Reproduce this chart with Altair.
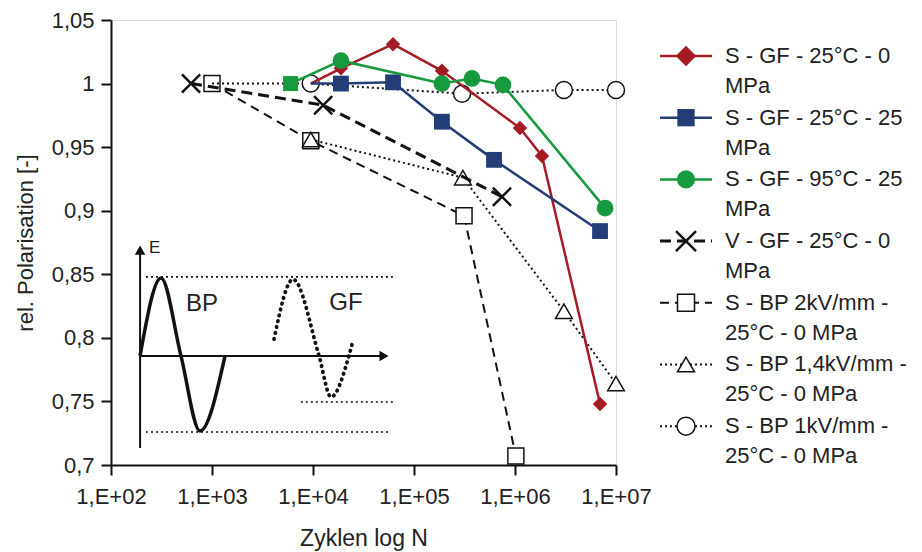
import altair as alt
import pandas as pd

# ---------------- data ----------------
legend_line1 = ["S - GF - 25°C - 0", "S - GF - 25°C - 25", "S - GF - 95°C - 25",
                "V - GF - 25°C - 0", "S - BP 2kV/mm -", "S - BP 1,4kV/mm -", "S - BP 1kV/mm -"]
legend_line2 = ["MPa", "MPa", "MPa", "MPa", "25°C - 0 MPa", "25°C - 0 MPa", "25°C - 0 MPa"]

sgf25_0_N = [9.5e3, 1.89e4, 6.2e4, 1.89e5, 1.12e6, 1.85e6, 6.95e6]
sgf25_0_P = [1.000, 1.012, 1.031, 1.010, 0.965, 0.943, 0.748]
sgf25_25_N = [9.5e3, 1.89e4, 6.2e4, 1.89e5, 6.2e5, 6.95e6]
sgf25_25_P = [1.000, 1.000, 1.001, 0.970, 0.940, 0.884]
sgf95_25_N = [6.0e3, 1.89e4, 1.89e5, 3.75e5, 7.6e5, 7.8e6]
sgf95_25_P = [1.000, 1.018, 1.000, 1.004, 0.999, 0.902]
vgf_N = [620, 1.26e4, 7.43e5]
vgf_P = [1.000, 0.983, 0.911]
bp2_N = [1.0e3, 9.5e3, 3.13e5, 1.02e6]
bp2_P = [1.000, 0.955, 0.896, 0.707]
bp14_N = [9.5e3, 3.05e5, 3.05e6, 1.0e7]
bp14_P = [0.956, 0.926, 0.821, 0.764]
bp1_N = [1.0e3, 9.5e3, 2.99e5, 3.05e6, 1.0e7]
bp1_P = [1.000, 1.000, 0.992, 0.995, 0.995]

x_ticks = [1e2, 1e3, 1e4, 1e5, 1e6, 1e7]
y_ticks = [0.7, 0.75, 0.8, 0.85, 0.9, 0.95, 1.0, 1.05]

# inset schematic (in data units of the chart)
bp_wave_N = [194, 313, 493, 760, 1346]
bp_wave_P = [0.7858, 0.8471, 0.7858, 0.7268, 0.7858]
gf_wave_N = [4110, 6340, 11460, 15070, 22700, 24900]
gf_wave_P = [0.799, 0.846, 0.786, 0.7535, 0.786, 0.798]
hline_P = [0.848, 0.726, 0.7496]
hline_N1 = [222, 222, 7580]
hline_N2 = [61700, 59200, 66000]
e_axis_N = [194, 194]
e_axis_P = [0.7134, 0.866]
t_axis_N = [194, 48000]
t_axis_P = [0.7858, 0.7858]
arrow_N = [194, 50500]
arrow_P = [0.869, 0.7858]
arrow_shape = ["triangle-up", "triangle-right"]
inset_text = ["E", "BP", "GF"]
inset_text_N = [270, 796, 21200]
inset_text_P = [0.871, 0.8267, 0.8275]
inset_text_size = [17, 24, 24]

# ---------------- styles ----------------
RED, BLUE, GREEN, BLACK = "#a51b24", "#233d77", "#169a3e", "#111111"
FONT = "Liberation Sans"
XSHAPE = "M-1,-1L1,1M-1,1L1,-1"

xs = alt.Scale(type="log", domain=[1e2, 1e7], nice=False)
ys = alt.Scale(domain=[0.7, 1.05], nice=False, zero=False)
x_enc = alt.X("N:Q", scale=xs, axis=alt.Axis(
    values=x_ticks, labelExpr="'1,E+0' + round(log(datum.value) / LN10)",
    grid=False, tickSize=10, tickWidth=2, tickColor=BLACK, domainColor=BLACK,
    domainWidth=2, labelFont=FONT, labelFontSize=22, labelColor="#222",
    labelPadding=11, title="Zyklen log N", titleFont=FONT, titleFontSize=23,
    titleFontWeight="normal", titleColor="#222", titlePadding=20, labelFlush=False))
y_enc = alt.Y("P:Q", scale=ys, axis=alt.Axis(
    values=y_ticks, labelExpr="replace(format(datum.value, '.2~f'), '.', ',')",
    grid=False, tickSize=10, tickWidth=2, tickColor=BLACK, domainColor=BLACK,
    domainWidth=2, labelFont=FONT, labelFontSize=22, labelColor="#222",
    labelPadding=7, title="rel. Polarisation [-]", titleFont=FONT, titleFontSize=22,
    titleFontWeight="normal", titleColor="#222", titlePadding=14, labelFlush=False))

series = [
    # (N, P, line style, marker style, first marker index)
    (bp2_N, bp2_P, dict(color=BLACK, strokeWidth=2, strokeDash=[9, 6]),
     dict(shape="square", filled=True, fill="white", stroke=BLACK, strokeWidth=1.5, size=256), 0),
    (bp14_N, bp14_P, dict(color=BLACK, strokeWidth=2, strokeDash=[2, 3]),
     dict(shape="triangle-up", filled=True, fill="white", stroke=BLACK, strokeWidth=1.5, size=280), 0),
    (bp1_N, bp1_P, dict(color=BLACK, strokeWidth=2, strokeDash=[2, 3]),
     dict(shape="circle", filled=True, fill="white", stroke=BLACK, strokeWidth=1.5, size=289), 1),
    (vgf_N, vgf_P, dict(color=BLACK, strokeWidth=3, strokeDash=[11, 6]),
     dict(shape=XSHAPE, filled=False, stroke=BLACK, strokeWidth=2.5, size=330), 0),
    (sgf25_0_N, sgf25_0_P, dict(color=RED, strokeWidth=2.5),
     dict(shape="diamond", filled=True, color=RED, size=210), 1),
    (sgf25_25_N, sgf25_25_P, dict(color=BLUE, strokeWidth=2.5),
     dict(shape="square", filled=True, color=BLUE, size=250), 1),
    (sgf95_25_N, sgf95_25_P, dict(color=GREEN, strokeWidth=2.5),
     dict(shape="circle", filled=True, color=GREEN, size=280), 0),
]

layers = []
# inset
inset_h = pd.DataFrame({"P": hline_P, "N": hline_N1, "N2": hline_N2})
layers.append(alt.Chart(inset_h).mark_rule(color=BLACK, strokeWidth=1.6, strokeDash=[2, 3])
              .encode(x=x_enc, x2="N2:Q", y=y_enc))
layers.append(alt.Chart(pd.DataFrame({"N": e_axis_N, "P": e_axis_P})).mark_line(color=BLACK, strokeWidth=2)
              .encode(x=x_enc, y=y_enc))
layers.append(alt.Chart(pd.DataFrame({"N": t_axis_N, "P": t_axis_P})).mark_line(color=BLACK, strokeWidth=2)
              .encode(x=x_enc, y=y_enc))
layers.append(alt.Chart(pd.DataFrame({"N": arrow_N, "P": arrow_P, "s": arrow_shape}))
              .mark_point(filled=True, color=BLACK, size=110, opacity=1)
              .encode(x=x_enc, y=y_enc, shape=alt.Shape("s:N", scale=None)))
layers.append(alt.Chart(pd.DataFrame({"N": bp_wave_N, "P": bp_wave_P}))
              .mark_line(color=BLACK, strokeWidth=3.5, interpolate="monotone")
              .encode(x=x_enc, y=y_enc))
layers.append(alt.Chart(pd.DataFrame({"N": gf_wave_N, "P": gf_wave_P}))
              .mark_line(color=BLACK, strokeWidth=3.8, interpolate="monotone",
                         strokeDash=[0.5, 5.5], strokeCap="round")
              .encode(x=x_enc, y=y_enc))
layers.append(alt.Chart(pd.DataFrame({"N": inset_text_N, "P": inset_text_P, "t": inset_text,
                                      "fs": inset_text_size}))
              .mark_text(font=FONT, color="#222", align="center", baseline="middle")
              .encode(x=x_enc, y=y_enc, text="t:N", size=alt.Size("fs:Q", scale=None)))

for idx, (N, P, ls, ms, mstart) in enumerate(series):
    df = pd.DataFrame({"N": N, "P": P})
    layers.append(alt.Chart(df).mark_line(**ls).encode(x=x_enc, y=y_enc))
    dfm = df.iloc[mstart:].copy()
    if idx == 6:
        dfm["shp"] = ["square"] + ["circle"] * (len(dfm) - 1)
        dfm["sz"] = [225] + [280] * (len(dfm) - 1)
        m = dict(ms)
        m.pop("shape")
        m.pop("size")
        layers.append(alt.Chart(dfm).mark_point(opacity=1, **m)
                      .encode(x=x_enc, y=y_enc, shape=alt.Shape("shp:N", scale=None),
                              size=alt.Size("sz:Q", scale=None)))
    else:
        layers.append(alt.Chart(dfm).mark_point(opacity=1, **ms).encode(x=x_enc, y=y_enc))

main = alt.layer(*layers).properties(width=505, height=445)

# ---------------- legend ----------------
leg_df = pd.DataFrame({"row": list(range(7)), "l1": legend_line1, "l2": legend_line2})
ly = alt.Y("row:Q", scale=alt.Scale(domain=[-0.583, 6.629], reverse=True, nice=False, zero=False),
           axis=None)
leg_order = [4, 5, 6, 3, 0, 1, 2]  # legend row for each entry of `series`
leg_msize = {0: 289, 1: 289, 2: 324, 3: 400, 4: 420, 5: 300, 6: 330}
XL0, XL1, XM, XT = 7, 59, 33, 72
leg_layers = []
for k, (N, P, ls, ms, mstart) in enumerate(series):
    r = leg_order[k]
    sub = leg_df[leg_df.row == r]
    lsd = dict(ls)
    lsd["strokeWidth"] = max(2, ls["strokeWidth"])
    c = lsd.pop("color")
    leg_layers.append(alt.Chart(sub).mark_rule(stroke=c, **lsd)
                      .encode(x=alt.value(XL0), x2=alt.value(XL1), y=ly))
    m = dict(ms)
    m["size"] = leg_msize[k]
    leg_layers.append(alt.Chart(sub).mark_point(opacity=1, **m).encode(x=alt.value(XM), y=ly))
leg_layers.append(alt.Chart(leg_df).mark_text(font=FONT, fontSize=22, color="#222", align="left",
                                             baseline="middle")
                  .encode(x=alt.value(XT), y=ly, text="l1:N"))
leg_layers.append(alt.Chart(leg_df).mark_text(font=FONT, fontSize=22, color="#222", align="left",
                                             baseline="middle", dy=30)
                  .encode(x=alt.value(XT), y=ly, text="l2:N"))
legend = alt.layer(*leg_layers).properties(width=255, height=445,
                                           view=alt.ViewBackground(stroke="transparent"))

chart = alt.hconcat(main, legend, spacing=0).properties(
    padding={"left": 5, "top": 0, "right": 0, "bottom": 0}
).configure_view(stroke="#8c8c8c", strokeWidth=1.5).configure(font=FONT)

chart.save("out.html", embed_options={"renderer": "svg", "actions": False})
